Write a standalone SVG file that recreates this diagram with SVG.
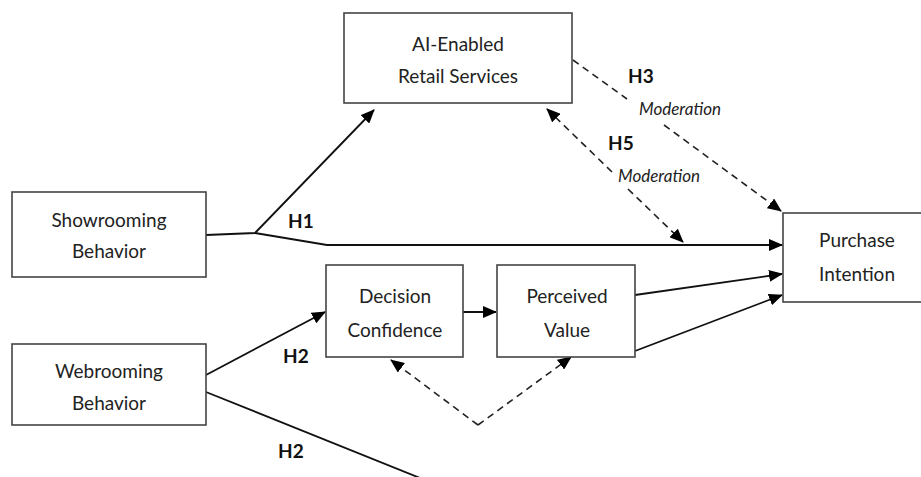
<svg xmlns="http://www.w3.org/2000/svg" width="921" height="477" viewBox="0 0 921 477">
<defs>
<style>
.box{fill:#fff;stroke:#444;stroke-width:1.6}
.lbl{font-family:Lato,"Open Sans",sans-serif;font-size:19px;fill:#222;text-anchor:middle}
.h{font-family:Lato,"Open Sans",sans-serif;font-size:19px;font-weight:bold;fill:#111}
.mod{font-family:Lato,"Open Sans",sans-serif;font-size:17px;font-style:italic;fill:#222}
.ln{fill:none;stroke:#111;stroke-width:1.8}
.dash{fill:none;stroke:#222;stroke-width:1.6;stroke-dasharray:7 5}
</style>
<marker id="arr" markerUnits="userSpaceOnUse" markerWidth="14" markerHeight="12" refX="13" refY="6" orient="auto-start-reverse" viewBox="0 0 14 12">
<path d="M0,0 L14,6 L0,12 Z" fill="#000"/>
</marker>
</defs>
<rect width="921" height="477" fill="#fff"/>
<g id="connectors">
<path class="ln" d="M206,235 L255,233 L374,110" marker-end="url(#arr)"/>
<path class="ln" d="M255,233 L327,245 L782,245" marker-end="url(#arr)"/>
<path class="ln" d="M206,375 L325,312" marker-end="url(#arr)"/>
<path class="ln" d="M206,392 L420,478"/>
<path class="ln" d="M463,312 L496,312" marker-end="url(#arr)"/>
<path class="ln" d="M635,295 L782,274" marker-end="url(#arr)"/>
<path class="ln" d="M635,351 L782,295" marker-end="url(#arr)"/>
<path class="dash" d="M573,60 L627,99"/>
<path class="dash" d="M664,125 L781,211" marker-end="url(#arr)"/>
<path class="dash" d="M612,172 L547,109" marker-end="url(#arr)"/>
<path class="dash" d="M628,189 L683,242" marker-end="url(#arr)"/>
<path class="dash" d="M478,425 L391,360" marker-end="url(#arr)"/>
<path class="dash" d="M478,425 L571,357" marker-end="url(#arr)"/>
</g>
<g id="ai">
<rect class="box" x="344" y="13" width="228" height="90"/>
<text class="lbl" x="458" y="51">AI-Enabled</text>
<text class="lbl" x="458" y="83">Retail Services</text>
</g>
<g id="showrooming">
<rect class="box" x="12" y="192" width="194" height="85"/>
<text class="lbl" x="109" y="227">Showrooming</text>
<text class="lbl" x="109" y="258">Behavior</text>
</g>
<g id="webrooming">
<rect class="box" x="12" y="344" width="194" height="81"/>
<text class="lbl" x="109" y="378">Webrooming</text>
<text class="lbl" x="109" y="410">Behavior</text>
</g>
<g id="decision">
<rect class="box" x="326" y="265" width="137" height="92"/>
<text class="lbl" x="395" y="303">Decision</text>
<text class="lbl" x="395" y="337">Confidence</text>
</g>
<g id="perceived">
<rect class="box" x="497" y="265" width="138" height="92"/>
<text class="lbl" x="567" y="303">Perceived</text>
<text class="lbl" x="567" y="337">Value</text>
</g>
<g id="purchase">
<rect class="box" x="783" y="213" width="145" height="89"/>
<text class="lbl" x="857" y="247">Purchase</text>
<text class="lbl" x="857" y="281">Intention</text>
</g>
<g id="labels">
<text class="h" x="628" y="83">H3</text>
<text class="mod" x="639" y="115">Moderation</text>
<text class="h" x="608" y="150">H5</text>
<text class="mod" x="618" y="182">Moderation</text>
<text class="h" x="288" y="228">H1</text>
<text class="h" x="283" y="363">H2</text>
<text class="h" x="278" y="458">H2</text>
</g>
</svg>
